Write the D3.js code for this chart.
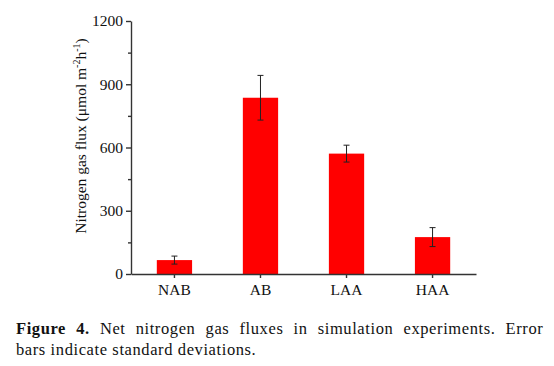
<!DOCTYPE html>
<html>
<head>
<meta charset="utf-8">
<script src="https://cdn.jsdelivr.net/npm/d3@7"></script>
<style>
  body { margin: 0; background: #fff; }
  svg { display: block; }
</style>
</head>
<body>
<svg id="chart" width="554" height="366"></svg>
<script>
// values
const groups = ["NAB", "AB", "LAA", "HAA"];
const flux = [66, 836, 571, 175];
const sd = [19, 106, 40, 45];
const yTicks = [0, 300, 600, 900, 1200];
const yMinor = [150, 450, 750, 1050];

const svg = d3.select("#chart");
const axisColor = "#333";
const serif = "'Liberation Serif', 'Times New Roman', serif";

const x = d3.scaleBand().domain(groups).range([131, 476])
    .paddingInner(0.59).paddingOuter(0.3);
const y = d3.scaleLinear().domain([0, 1200]).range([274, 21]);

const rows = groups.map((g, i) => ({ g: g, v: flux[i], e: sd[i] }));

// bars
svg.selectAll(".bar")
    .data(rows)
    .enter().append("rect")
    .attr("class", "bar")
    .attr("x", d => x(d.g))
    .attr("width", x.bandwidth())
    .attr("y", d => y(d.v))
    .attr("height", d => y(0) - y(d.v))
    .attr("fill", "#ff0000");

// error bars
const err = svg.selectAll(".err")
    .data(rows)
    .enter().append("g")
    .attr("class", "err")
    .attr("stroke", "#222")
    .attr("stroke-width", 1);
err.append("line")
    .attr("x1", d => x(d.g) + x.bandwidth() / 2)
    .attr("x2", d => x(d.g) + x.bandwidth() / 2)
    .attr("y1", d => y(d.v - d.e))
    .attr("y2", d => y(d.v + d.e));
err.selectAll(".cap")
    .data(d => [d.v - d.e, d.v + d.e].map(v => ({ g: d.g, v: v })))
    .enter().append("line")
    .attr("x1", d => x(d.g) + x.bandwidth() / 2 - 3)
    .attr("x2", d => x(d.g) + x.bandwidth() / 2 + 3)
    .attr("y1", d => y(d.v))
    .attr("y2", d => y(d.v));

// y axis
svg.append("g")
    .attr("transform", "translate(131,0)")
    .call(d3.axisLeft(y).tickValues(yTicks).tickFormat(d3.format("d"))
        .tickSize(5).tickPadding(3).tickSizeOuter(0));
svg.append("g")
    .attr("transform", "translate(131,0)")
    .call(d3.axisLeft(y).tickValues(yMinor).tickSize(3).tickFormat("").tickSizeOuter(0))
    .select(".domain").remove();

// x axis
svg.append("g")
    .attr("transform", "translate(0,274)")
    .call(d3.axisBottom(x).tickSize(4).tickPadding(6).tickSizeOuter(0));

svg.selectAll(".domain, .tick line")
    .attr("stroke", axisColor)
    .attr("stroke-width", 1.4);
svg.selectAll(".tick text")
    .attr("font-family", serif)
    .attr("font-size", 15.5)
    .attr("fill", "#111");

// y label
const ylab = svg.append("text")
    .attr("transform", "translate(86,136) rotate(-90)")
    .attr("text-anchor", "middle")
    .attr("font-family", serif)
    .attr("font-size", 15.5)
    .attr("fill", "#111");
ylab.append("tspan").text("Nitrogen gas flux (\u03bcmol m");
ylab.append("tspan").attr("dy", -6).attr("font-size", 10).text("-2");
ylab.append("tspan").attr("dy", 6).text("h");
ylab.append("tspan").attr("dy", -6).attr("font-size", 10).text("-1");
ylab.append("tspan").attr("dy", 6).text(")");

// caption
const line1 = svg.append("text")
    .attr("x", 16).attr("y", 334)
    .attr("font-family", serif)
    .attr("font-size", 16.5)
    .attr("letter-spacing", 0.6)
    .attr("fill", "#111");
line1.append("tspan").attr("font-weight", "bold").text("Figure 4.");
line1.append("tspan").text(" Net nitrogen gas fluxes in simulation experiments. Error");
// justify first line
const w = line1.node().getComputedTextLength();
line1.attr("word-spacing", (538 - 16 - w) / 8);

svg.append("text")
    .attr("x", 16).attr("y", 355)
    .attr("font-family", serif)
    .attr("font-size", 16.5)
    .attr("letter-spacing", 0.6)
    .attr("fill", "#111")
    .text("bars indicate standard deviations.");
</script>
</body>
</html>
